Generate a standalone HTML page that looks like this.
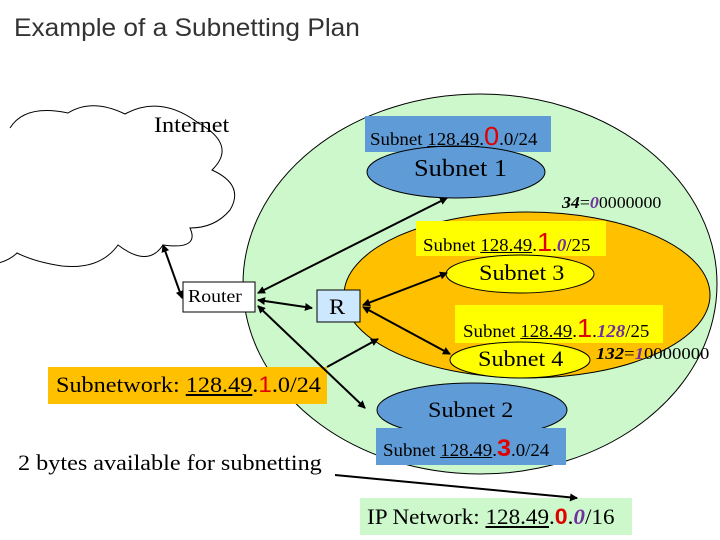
<!DOCTYPE html>
<html><head><meta charset="utf-8"><style>
body{margin:0;width:720px;height:540px;overflow:hidden;background:#fff;position:relative;font-family:"Liberation Serif",serif}
.t{position:absolute;white-space:nowrap;transform:scaleX(1.1);transform-origin:0 50%}
u{text-decoration:underline}
.r{color:#e00000;font-family:"Liberation Sans",sans-serif}
.p{color:#7030a0;font-style:italic;font-weight:bold}
</style></head><body>
<svg width="720" height="540" style="position:absolute;left:0;top:0">
<defs><marker id="a" markerWidth="8" markerHeight="8" refX="7" refY="4" orient="auto-start-reverse" markerUnits="userSpaceOnUse"><path d="M0,0 L8,4 L0,8 z" fill="#000"/></marker></defs>
<ellipse cx="480" cy="284" rx="237" ry="190" fill="#ccf8cc" stroke="#000" stroke-width="1"/>
<ellipse cx="527" cy="295" rx="183" ry="83" fill="#ffc000" stroke="#000" stroke-width="1"/>
<rect x="365" y="116" width="186" height="36" fill="#5f9bd6"/>
<ellipse cx="456" cy="172" rx="89" ry="26" fill="#5f9bd6" stroke="#000"/>
<rect x="416" y="221" width="190" height="35" fill="#ffff00"/>
<ellipse cx="520" cy="274" rx="74" ry="19" fill="#ffff00" stroke="#000"/>
<rect x="455" y="305" width="208" height="38" fill="#ffff00"/>
<ellipse cx="520" cy="360" rx="70" ry="18" fill="#ffff00" stroke="#000"/>
<ellipse cx="472" cy="410" rx="95" ry="27" fill="#5f9bd6" stroke="#000"/>
<rect x="376" y="428" width="190" height="37" fill="#5f9bd6"/>
<rect x="360" y="498" width="272" height="37" fill="#ccf8cc"/>
<rect x="48" y="367" width="279" height="37" fill="#ffc000"/>
<rect x="317" y="290" width="43" height="32" fill="#cce8ff" stroke="#000"/>
<rect x="183" y="282" width="72" height="30" fill="#fff" stroke="#000"/>
<path d="M10,128 Q25,104 68,113 Q92,98 125,114 Q160,95 197,122 Q238,145 212,170 Q245,185 230,210 Q215,228 190,228 Q200,250 163,245 Q148,268 118,245 Q100,270 62,266 Q35,262 17,253 Q8,262 -10,265" fill="none" stroke="#000" stroke-width="1"/>
<g stroke="#000" stroke-width="2" fill="none">
<line x1="163" y1="245" x2="182" y2="298" marker-start="url(#a)" marker-end="url(#a)"/>
<line x1="258" y1="293" x2="447" y2="198" marker-start="url(#a)" marker-end="url(#a)"/>
<line x1="258" y1="300" x2="312" y2="308" marker-start="url(#a)" marker-end="url(#a)"/>
<line x1="258" y1="306" x2="365" y2="408" marker-start="url(#a)" marker-end="url(#a)"/>
<line x1="327" y1="367" x2="378" y2="339" marker-end="url(#a)"/>
<line x1="363" y1="305" x2="447" y2="273" marker-start="url(#a)" marker-end="url(#a)"/>
<line x1="363" y1="307" x2="450" y2="354" marker-start="url(#a)" marker-end="url(#a)"/>
<line x1="335" y1="475" x2="577" y2="498" marker-end="url(#a)"/>
</g>
</svg>
<div class="t" style="left:14px;top:14px;font-family:'Liberation Sans',sans-serif;font-size:25px;color:#333;transform:scaleX(1.05)">Example of a Subnetting Plan</div>
<div class="t" style="left:154px;top:112px;font-size:22px">Internet</div>
<div class="t" style="left:370px;top:121px;font-size:18px;transform:scaleX(1.05)">Subnet <u>128.49</u>.<span class="r" style="font-size:26px">0</span>.0/24</div>
<div class="t" style="left:414px;top:156px;font-size:24px">Subnet 1</div>
<div class="t" style="left:562px;top:193px;font-size:17px;transform:scaleX(1.05)"><b><i>34</i></b>=<span class="p">0</span>0000000</div>
<div class="t" style="left:423px;top:227px;font-size:18px;transform:scaleX(1.05)">Subnet <u>128.49</u>.<span class="r" style="font-size:26px">1</span>.<span class="p">0</span>/25</div>
<div class="t" style="left:479px;top:260px;font-size:22px">Subnet 3</div>
<div class="t" style="left:188px;top:286px;font-size:18px">Router</div>
<div class="t" style="left:329px;top:294px;font-size:22px">R</div>
<div class="t" style="left:463px;top:313px;font-size:18px;transform:scaleX(1.05)">Subnet <u>128.49</u>.<span class="r" style="font-size:26px">1</span>.<span class="p">128</span>/25</div>
<div class="t" style="left:478px;top:346px;font-size:22px">Subnet 4</div>
<div class="t" style="left:596px;top:344px;font-size:17px"><b><i>132</i></b>=<span class="p">1</span>0000000</div>
<div class="t" style="left:56px;top:372px;font-size:22px">Subnetwork: <u>128.49</u>.<span class="r">1</span>.0/24</div>
<div class="t" style="left:428px;top:397px;font-size:22px">Subnet 2</div>
<div class="t" style="left:383px;top:435px;font-size:18px;transform:scaleX(1.05)">Subnet <u>128.49</u>.<span class="r" style="font-size:24px;font-weight:bold">3</span>.0/24</div>
<div class="t" style="left:18px;top:450px;font-size:22px">2 bytes available for subnetting</div>
<div class="t" style="left:367px;top:504px;font-size:22px;transform:scaleX(1.05)">IP Network: <u>128.49</u>.<span class="r" style="font-weight:bold">0</span>.<span class="p">0</span>/16</div>
</body></html>
